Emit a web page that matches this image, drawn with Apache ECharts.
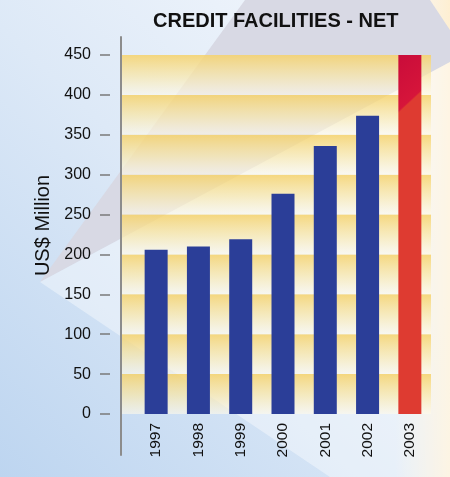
<!DOCTYPE html>
<html>
<head>
<meta charset="utf-8">
<script src="https://cdn.jsdelivr.net/npm/echarts@6/dist/echarts.min.js"></script>
<style>
  html, body { margin: 0; padding: 0; background: #fff; }
  #chart { width: 450px; height: 477px; }
</style>
</head>
<body>
<div id="chart"></div>
<script>
// data
const years = ['1997', '1998', '1999', '2000', '2001', '2002', '2003'];
const creditNet = [206, 210, 219, 276, 336, 374, 450];
const yMin = 0;
const yMax = 450;
const yStep = 50;

const BLUE = '#2b3e98';
const RED = '#de3b31';
const FONT = '"Liberation Sans", Arial, sans-serif';

const chart = echarts.init(document.getElementById('chart'));

// yellow band that fades downwards, one per 50 interval
const stripe = new echarts.graphic.LinearGradient(0, 0, 0, 1, [
  { offset: 0, color: 'rgba(246, 210, 105, 0.85)' },
  { offset: 0.55, color: 'rgba(250, 232, 170, 0.7)' },
  { offset: 1, color: 'rgba(255, 250, 235, 0.6)' }
]);

// last bar: crimson top cut off by a diagonal
const redFill = new echarts.graphic.LinearGradient(0, 0, 2.47, 0.172, [
  { offset: 0, color: '#c90c3a' },
  { offset: 0.49, color: '#d6153a' },
  { offset: 0.51, color: RED },
  { offset: 1, color: RED }
]);

const option = {
  animation: false,
  textStyle: { fontFamily: FONT },
  title: {
    text: 'CREDIT FACILITIES - NET',
    left: 148,
    top: 6,
    textStyle: { fontFamily: FONT, fontSize: 20, fontWeight: 'bold', color: '#111' }
  },
  // background artwork (decoration only)
  graphic: [
    {
      type: 'rect', z: -10, silent: true,
      shape: { x: 0, y: 0, width: 450, height: 477 },
      style: {
        fill: new echarts.graphic.LinearGradient(0, 1, 1, 0, [
          { offset: 0, color: '#bdd5f0' },
          { offset: 0.5, color: '#dde9f7' },
          { offset: 1, color: '#f7f9fd' }
        ])
      }
    },
    {
      type: 'rect', z: -9.5, silent: true,
      shape: { x: 395, y: 0, width: 55, height: 477 },
      style: {
        fill: new echarts.graphic.LinearGradient(0, 0, 1, 0, [
          { offset: 0, color: 'rgba(255,240,212,0)' },
          { offset: 1, color: 'rgba(255,238,205,0.9)' }
        ])
      }
    },
    {
      type: 'polygon', z: -9, silent: true,
      shape: { points: [[245, 0], [430, 0], [450, 30], [450, 62], [40, 282]] },
      style: { fill: '#d8d9e4' }
    },
    {
      type: 'polygon', z: -9, silent: true,
      shape: { points: [[40, 282], [450, 62], [450, 477], [330, 477]] },
      style: { fill: 'rgba(255,255,255,0.4)' }
    }
  ],
  grid: [
    { left: 122, right: 19, top: 55, bottom: 63 },  // stripes + y labels
    { left: 135, right: 19, top: 55, bottom: 63 },  // bars
    { left: 121, right: 19, top: 37, bottom: 22 }   // long axis line
  ],
  xAxis: [
    { gridIndex: 0, type: 'category', data: years, show: false },
    {
      gridIndex: 1,
      type: 'category',
      data: years,
      axisLine: { show: false },
      axisTick: { show: false },
      axisLabel: { rotate: 90, margin: 9, fontSize: 15.5, color: '#111', fontFamily: FONT }
    },
    { gridIndex: 2, type: 'category', data: years, show: false }
  ],
  yAxis: [
    {
      gridIndex: 0,
      type: 'value',
      min: yMin,
      max: yMax,
      interval: yStep,
      offset: 12,
      axisLine: { show: false },
      axisTick: { show: true, length: 10, lineStyle: { color: '#7a7a7a', width: 1.5 } },
      axisLabel: { margin: 19, fontSize: 16, color: '#111', fontFamily: FONT },
      splitLine: { show: false },
      splitArea: { show: true, areaStyle: { color: [stripe] } },
      name: 'US$ Million',
      nameLocation: 'middle',
      nameGap: 57,
      nameMoveOverlap: false,
      nameTextStyle: { fontSize: 20, color: '#111', fontFamily: FONT, padding: [0, 0, 0, 18] }
    },
    { gridIndex: 1, type: 'value', min: yMin, max: yMax, interval: yStep, show: false },
    {
      gridIndex: 2,
      type: 'value',
      min: 0,
      max: 1,
      axisLine: { show: true, lineStyle: { color: '#8c8c8c', width: 2 } },
      axisTick: { show: false },
      axisLabel: { show: false },
      splitLine: { show: false }
    }
  ],
  series: [
    {
      type: 'bar',
      xAxisIndex: 1,
      yAxisIndex: 1,
      barWidth: 23,
      data: creditNet.map((v, i) => ({
        value: v,
        itemStyle: { color: i === creditNet.length - 1 ? redFill : BLUE }
      }))
    }
  ]
};

chart.setOption(option);
</script>
</body>
</html>
